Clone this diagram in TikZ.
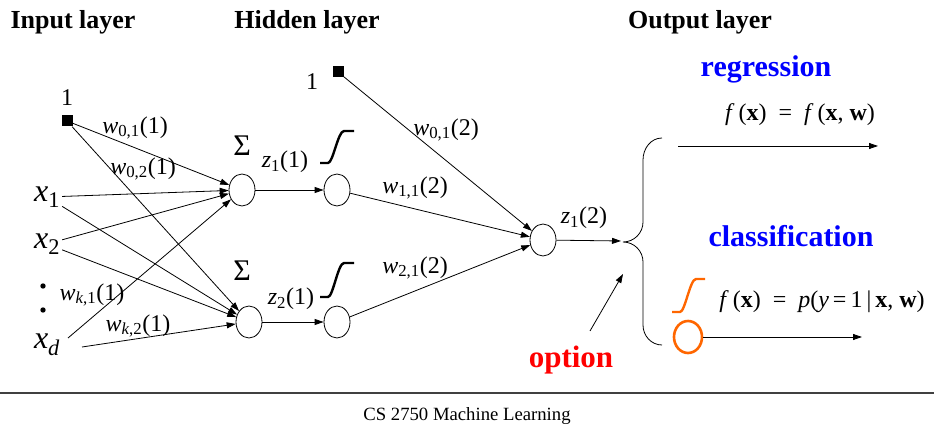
\documentclass[tikz,border=0pt]{standalone}
\usepackage{fontspec}
\setmainfont{Liberation Serif}
\usepackage{tikz}
\usepackage{xcolor}
\usetikzlibrary{positioning, arrows.meta, shapes.geometric}
\definecolor{nnblue}{RGB}{0, 0, 255}
\definecolor{nnred}{RGB}{255, 0, 0}
\definecolor{nnorange}{RGB}{255, 102, 0}
\tikzset{
    neuron/.style={ellipse, draw, line width=0.8pt, minimum width=26pt, minimum height=32pt, inner sep=0pt},
    biasnode/.style={rectangle, fill=black, minimum size=11pt, inner sep=0pt},
    conn/.style={-{Triangle[length=9pt, width=6pt]}, line width=0.8pt},
    sigmoid/.style={line width=2.4pt, line cap=butt},
    layertitle/.style={font=\fontsize{26}{28}\selectfont\bfseries},
    inlabel/.style={font=\fontsize{32}{34}\selectfont, inner sep=2pt},
    wlabel/.style={font=\fontsize{24}{26}\selectfont, inner sep=0pt},
    tasklabel/.style={font=\fontsize{30}{32}\selectfont\bfseries, text=nnblue},
    formula/.style={font=\fontsize{24}{26}\selectfont, inner sep=0pt}
}
\newcommand{\wt}[2]{\textit{w}\textsubscript{#1}(#2)}
\newcommand{\zt}[2]{\textit{z}\textsubscript{#1}(#2)}

\begin{document}
\begin{tikzpicture}[x=1pt, y=-1pt]
    \useasboundingbox (0,0) rectangle (934,438);
    % layer titles
    \node[layertitle] (tin) at (73,22) {Input layer};
    \node[layertitle] (thid) at (307,22) {Hidden layer};
    \node[layertitle] (tout) at (700,22) {Output layer};

    % inputs
    \node[biasnode] (b1) at (67,121) {};
    \node[wlabel] (one1) at (67,98) {1};
    \node[inlabel] (x1) at (47,197) {\textit{x}\textsubscript{1}};
    \node[inlabel] (x2) at (47,244) {\textit{x}\textsubscript{2}};
    \node[circle, fill, inner sep=1.9pt] (dot1) at (43,286) {};
    \node[circle, fill, inner sep=1.9pt] (dot2) at (43,310) {};
    \node[inlabel] (xd) at (47,345) {\textit{x}\textsubscript{\textit{d}}};
    \coordinate (xdup) at (68,338);
    \coordinate (xdlo) at (82,347);

    % hidden units
    \node[neuron] (s1) at (242,190) {};
    \node[neuron] (s2) at (249,322) {};
    \node[neuron] (a1) at (337,190) {};
    \node[neuron] (a2) at (337,322) {};
    \node[font=\fontsize{30}{32}\selectfont] (sig1) at (242,146) {Σ};
    \node[font=\fontsize{30}{32}\selectfont] (sig2) at (242,271) {Σ};
    \draw[sigmoid] (320,163) -- (328,163) .. controls (333,163) and (338,131) .. (344,131) -- (354,131);
    \draw[sigmoid] (320,297) -- (328,297) .. controls (333,297) and (338,263) .. (344,263) -- (354,263);

    % output unit
    \node[biasnode] (b2) at (338,72) {};
    \node[wlabel] (one2) at (312,82) {1};
    \node[neuron] (out) at (543,240) {};

    % first layer weights
    \foreach \src in {b1, x1, x2}
        \draw[conn] (\src) -- (s1);
    \foreach \src in {b1, x1, x2}
        \draw[conn] (\src) -- (s2);
    \draw[conn] (xdup) -- (s1);
    \draw[conn] (xdlo) -- (s2);
    \node[wlabel] (w01) at (135,128) {\wt{0,1}{1}};
    \node[wlabel] (w02) at (143,169) {\wt{0,2}{1}};
    \node[wlabel] (wk1) at (92,295) {\wt{\textit{k},1}{1}};
    \node[wlabel] (wk2) at (138,326) {\wt{\textit{k},2}{1}};

    % second layer
    \draw[conn] (s1) -- (a1);
    \draw[conn] (s2) -- (a2);
    \node[wlabel] (z11) at (285,162) {\zt{1}{1}};
    \node[wlabel] (z21) at (291,299) {\zt{2}{1}};
    \draw[conn] (b2) -- (out);
    \draw[conn] (a1) -- (out);
    \draw[conn] (a2) -- (out);
    \node[wlabel] (w012) at (446,130) {\wt{0,1}{2}};
    \node[wlabel] (w112) at (415,188) {\wt{1,1}{2}};
    \node[wlabel] (w212) at (415,268) {\wt{2,1}{2}};
    \node[wlabel] (z12) at (584,218) {\zt{1}{2}};

    % brace and options
    \coordinate (tip) at (621,241);
    \draw[conn] (out) -- (tip);
    \draw[line width=0.8pt] (662,138) to[out=180, in=90] (643,160) -- (643,222)
        to[out=-90, in=0] (623,242) to[out=0, in=90] (643,262) -- (643,325)
        to[out=-90, in=180] (662,345);

    \node[tasklabel] (reg) at (766,69) {regression};
    \node[formula] (freg) at (800,115) {\textit{f}\,(\textbf{x})\enspace=\enspace\textit{f}\,(\textbf{x}, \textbf{w})};
    \coordinate (regs) at (678,146);
    \coordinate (rege) at (878,146);
    \draw[conn] (regs) -- (rege);

    \node[tasklabel] (cls) at (791,236) {classification};
    \node[formula] (fcls) at (822,302) {\textit{f}\,(\textbf{x})\enspace=\enspace\textit{p}(\textit{y}\,=\,1\,|\,\textbf{x}, \textbf{w})};
    \draw[sigmoid, draw=nnorange] (672,312) -- (680,312) .. controls (685,312) and (690,279) .. (696,279) -- (705,279);
    \node[ellipse, draw=nnorange, line width=2.6pt, minimum width=28pt, minimum height=32pt, inner sep=0pt] (oc) at (688,337) {};
    \coordinate (clse) at (862,337);
    \draw[conn] (oc) -- (clse);

    \node[font=\fontsize{31}{33}\selectfont\bfseries, text=nnred] (opt) at (571,360) {option};
    \coordinate (optt) at (590,331);
    \coordinate (opth) at (623,274);
    \draw[conn] (optt) -- (opth);

    % footer
    \draw[line width=1.2pt, black!75] (0,393) -- (934,393);
    \node[font=\fontsize{18.7}{20}\selectfont] (foot) at (467,416) {CS 2750 Machine Learning};
\end{tikzpicture}
\end{document}
